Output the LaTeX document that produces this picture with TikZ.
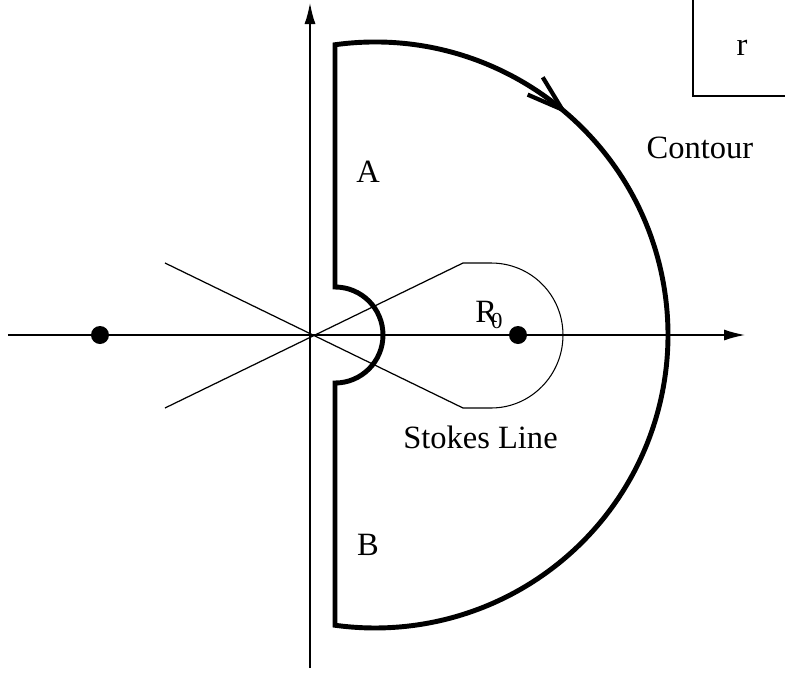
\documentclass[tikz,border=0pt]{standalone}
\usepackage{fontspec}
\setmainfont{Liberation Serif}
\usetikzlibrary{
  arrows.meta,
  decorations.markings
}

\begin{document}
\begin{tikzpicture}[
  lbl/.style={font=\fontsize{18.5}{22}\selectfont, inner sep=0pt},
  axis/.style={-{Latex[length=0.42cm,width=0.22cm]}, line width=0.8pt},
  ray/.style={line width=0.7pt},
  stokes/.style={line width=0.6pt},
  contour/.style={line width=2.8pt, line join=miter,
                  postaction={decorate},
                  decoration={markings, mark=at position 9.85cm with
                    {\arrow{Straight Barb[length=0.72cm,width=0.46cm,line width=2.4pt]}}}},
  pole/.style={circle, fill=black, minimum size=0.36cm, inner sep=0pt}
]
  \useasboundingbox (-6.2,-6.8) rectangle (9.5,6.7);

  % axes
  \coordinate (O)  at (0,0);
  \coordinate (xl) at (-6.04,0);
  \coordinate (xr) at (8.7,0);
  \coordinate (yb) at (0,-6.66);
  \coordinate (yt) at (0,6.64);
  \draw[axis] (xl) -- (xr);
  \draw[axis] (yb) -- (yt);

  % lines through the origin
  \coordinate (s1) at (-2.9,1.44);
  \coordinate (s2) at (3.06,-1.46);
  \coordinate (s3) at (-2.9,-1.46);
  \coordinate (s4) at (3.06,1.44);
  \draw[ray] (s1) -- (s2);
  \draw[ray] (s3) -- (s4);

  % Stokes line loop
  \draw[stokes] (s4) -- (3.62,1.44) .. controls (4.42,1.44) and (5.06,0.8) .. (5.06,0)
    .. controls (5.06,-0.8) and (4.42,-1.46) .. (3.62,-1.46) -- (s2);

  % contour
  \draw[contour] (0.5,0.96) -- (0.5,5.805) arc[start angle=97.85, end angle=-97.85, radius=5.86]
    -- (0.5,-0.96) arc[start angle=-90, end angle=90, radius=0.96] -- cycle;

  % poles
  \node[pole] (pl) at (-4.2,0) {};
  \node[pole] (pr) at (4.16,0) {};

  % labels
  \node[lbl] (la)  at (1.16,3.26)  {A};
  \node[lbl] (lb)  at (1.16,-4.2)  {B};
  \node[lbl] (lc)  at (7.8,3.74)   {Contour};
  \node[lbl] (ls)  at (3.41,-2.04) {Stokes Line};
  \node[lbl, anchor=base west] (lr0) at (3.3,0.26)
    {R\kern-0.12cm\raisebox{-0.12cm}{\fontsize{13}{15}\selectfont 0}};

  % corner box
  \coordinate (rt) at (7.66,6.7);
  \coordinate (rc) at (7.66,4.78);
  \coordinate (rr) at (9.5,4.78);
  \draw[line width=0.6pt] (rt) -- (rc) -- (rr);
  \node[lbl] (lrr) at (8.64,5.74) {r};
\end{tikzpicture}
\end{document}
